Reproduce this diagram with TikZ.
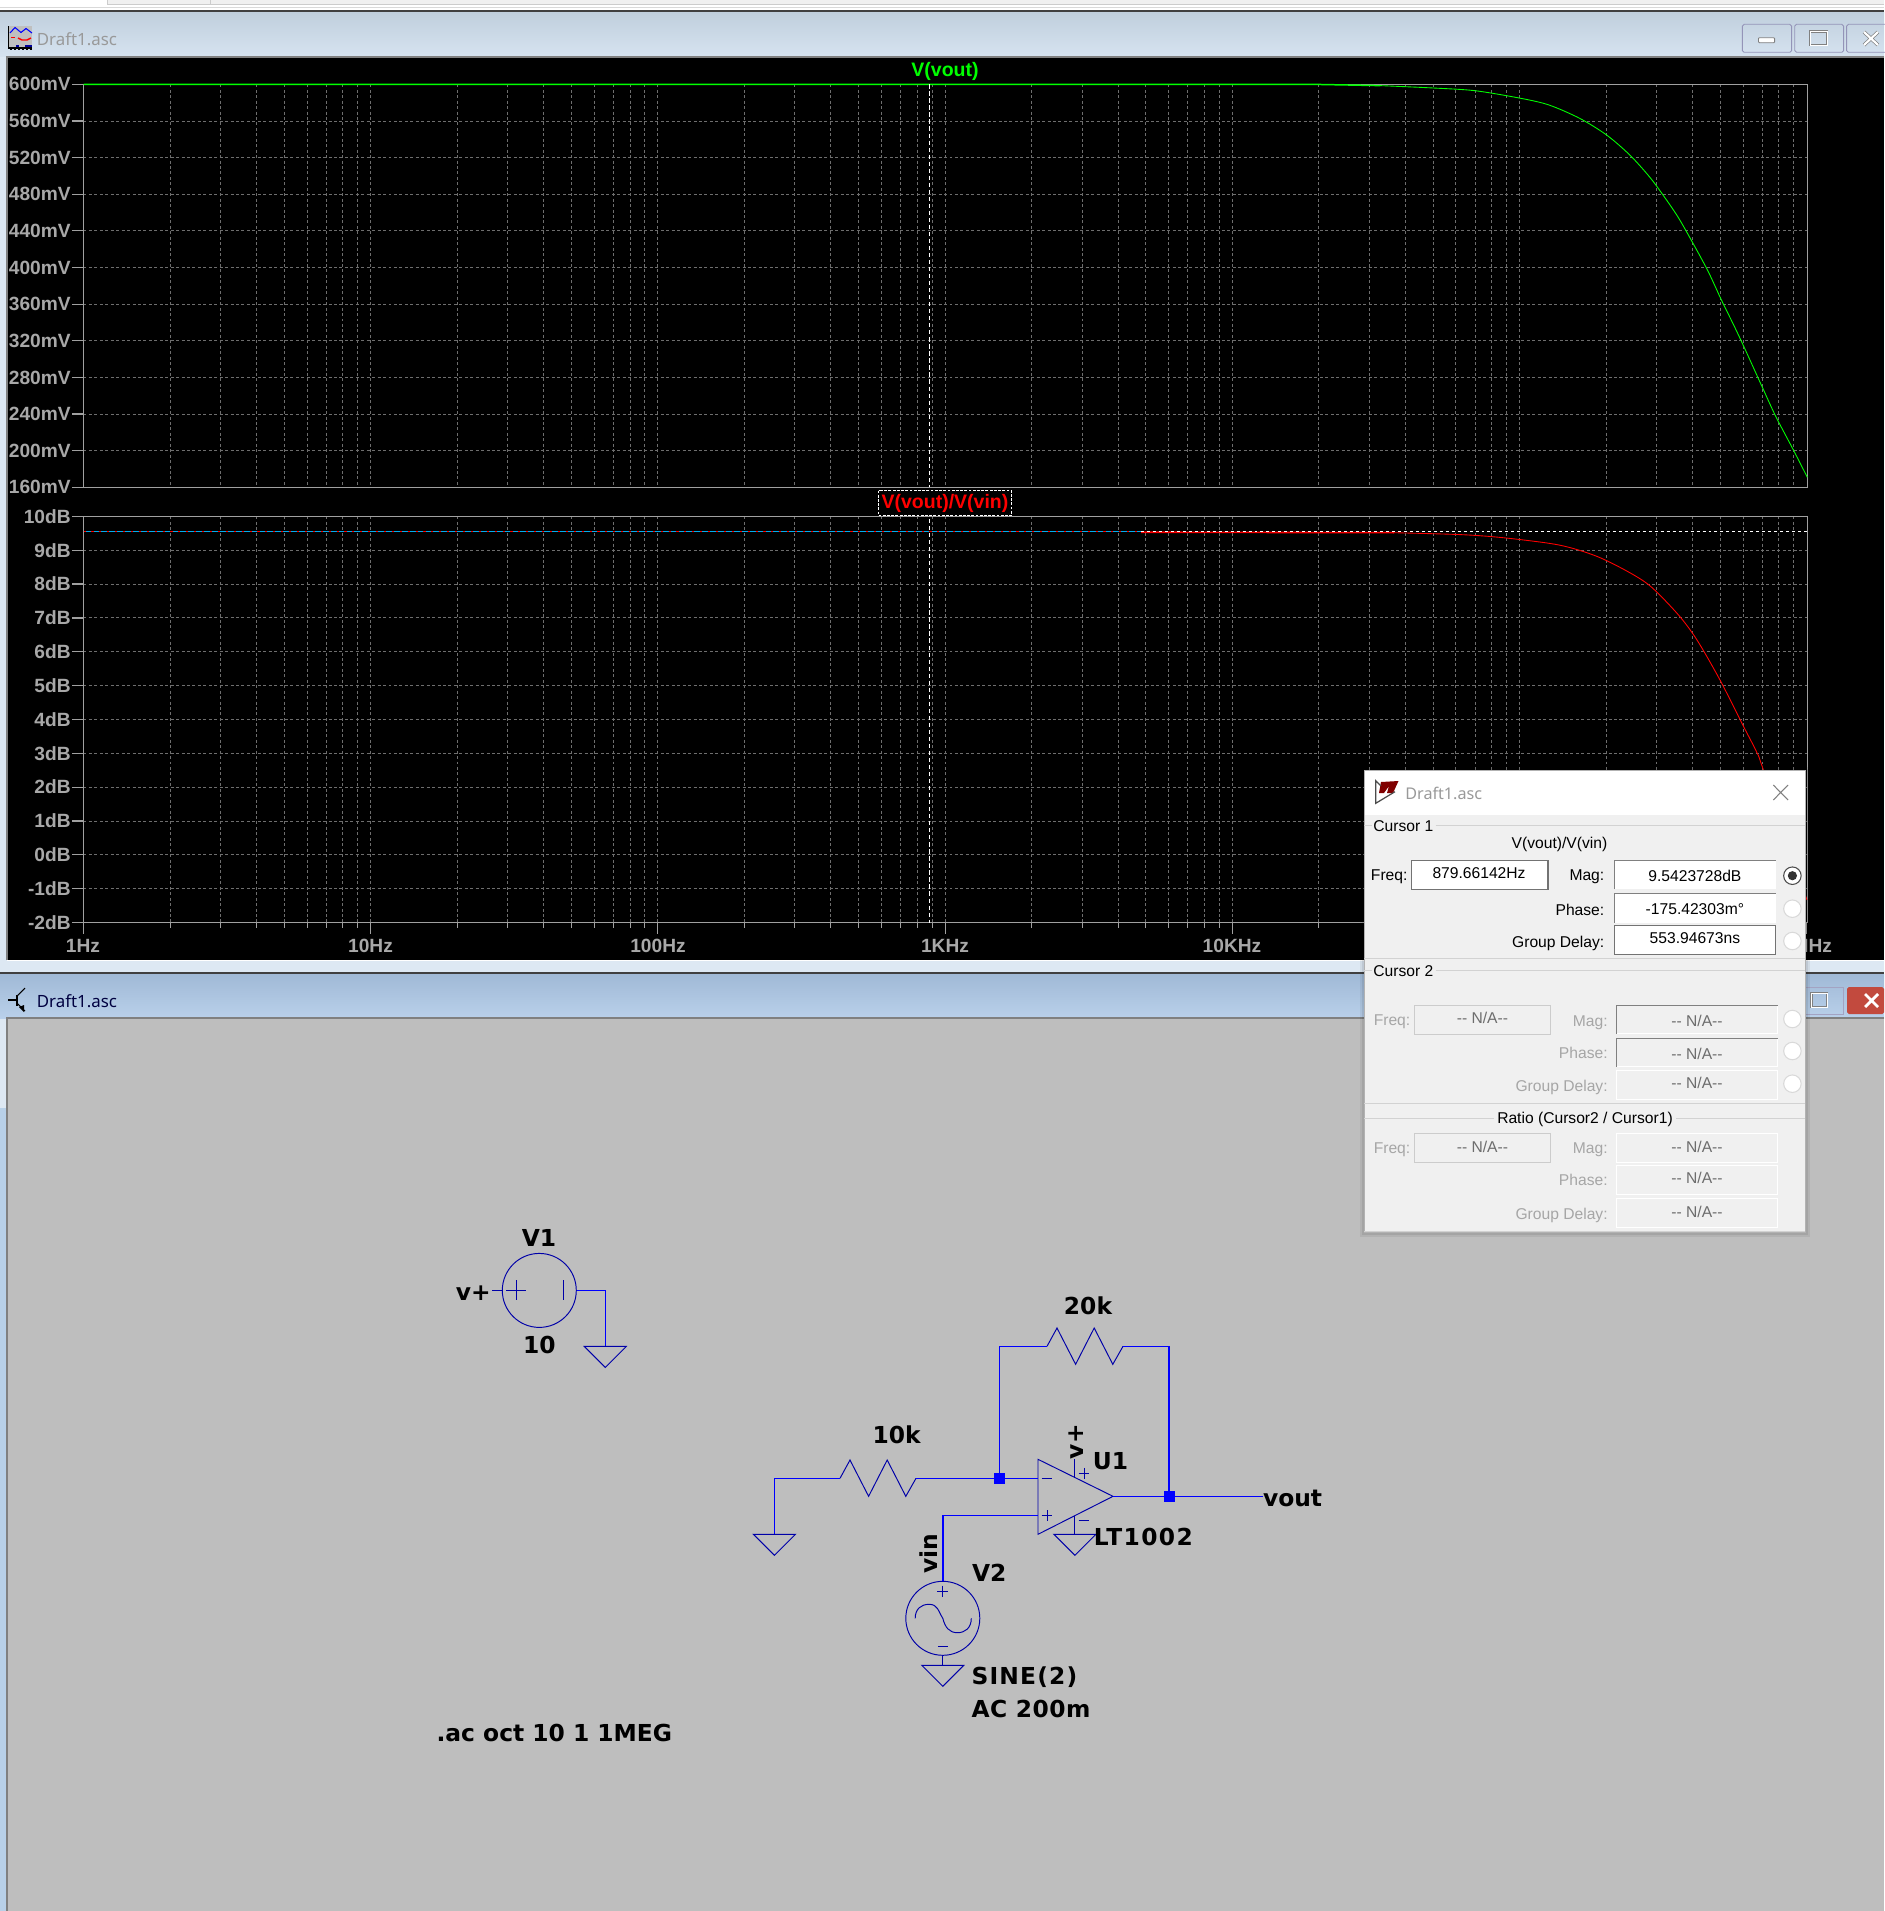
\documentclass[tikz,border=0pt]{standalone}
\usepackage{fontspec}
\setmainfont{Liberation Sans}
\newfontfamily\schfont{DejaVu Sans}
\newfontfamily\titlefont{Noto Sans}
\usepackage{tikz}

\definecolor{plotgray}{HTML}{A8A8A8}
\definecolor{framegray}{HTML}{A0A0A0}
\definecolor{gridgray}{HTML}{6E6E6E}
\definecolor{schgray}{HTML}{BEBEBE}
\definecolor{dlggray}{HTML}{F0F0F0}
\definecolor{dimgray}{HTML}{A6A6A6}
\definecolor{natext}{HTML}{6D6D6D}
\definecolor{symblue}{HTML}{0000A8}
\definecolor{wireblue}{HTML}{0000FF}
\definecolor{traceg}{HTML}{00FF00}
\definecolor{tracer}{HTML}{FF0000}
\definecolor{wavetop}{HTML}{C0CFDD}
\definecolor{wavebot}{HTML}{D6E3F0}
\definecolor{schtop}{HTML}{A0B9D6}
\definecolor{schbot}{HTML}{B9D0EA}
\definecolor{winframe}{HTML}{DDE8F3}
\definecolor{winlow}{HTML}{B8D0E8}
\definecolor{closered}{HTML}{C24A3E}

\tikzset{
  gridline/.style={gridgray, line width=0.5pt, dash pattern=on 1.7pt off 1.4pt},
  plotlab/.style={font=\bfseries\fontsize{10.9}{12}\selectfont, text=plotgray, inner sep=0pt},
  framed/.style={framegray, line width=0.7pt},
  wire/.style={wireblue, line width=0.85pt},
  sym/.style={symblue, line width=0.55pt},
  srcnode/.style={circle, draw=symblue, line width=0.55pt, minimum size=1.48cm, inner sep=0pt},
  junction/.style={fill=wireblue, minimum size=0.214cm, inner sep=0pt},
  schlab/.style={font=\schfont\bfseries\fontsize{13.3}{14}\selectfont, inner sep=0pt},
  dlg/.style={font=\fontsize{8.9}{10}\selectfont, inner sep=0pt, text=black},
  dlglab/.style={dlg, yshift=-0.8pt},
  dlgdim/.style={dlg, text=dimgray},
  dlgna/.style={dlg, text=natext},
  wintitle/.style={font=\titlefont\fontsize{9.6}{11}\selectfont, inner sep=0pt},
  gndsym/.pic={\draw[sym] (-21,0) -- (21,0) -- (0,21) -- cycle;},
  res/.pic={\draw[sym] (0,0) -- (10,-18.3) -- (28.6,18) -- (47.2,-18.3) -- (65.8,18) -- (76,0);},
  radio/.style={circle, fill=white, draw=#1, line width=0.6pt, minimum size=0.35cm, inner sep=0pt}
}

\begin{document}
\begin{tikzpicture}[x=0.02cm,y=-0.02cm]
  \useasboundingbox (0,0) rectangle (1884,1911);
  \fill[white] (0,0) rectangle (1884,1911);

  % screen strip on top
  \fill[dlggray] (107,0) rectangle (1884,4.5);
  \draw[gray!40, line width=0.5pt] (107,0) -- (107,4.5) -- (1884,4.5);
  \draw[gray!40, line width=0.5pt] (210,0) -- (210,4.5);
  \draw[gray!30, line width=0.5pt] (0,7.5) -- (1884,7.5);
  \draw[black!75, line width=0.6pt] (0,11) -- (1884,11);

  % waveform window
  \shade[top color=wavetop, bottom color=wavebot] (0,12) rectangle (1884,57);
  \fill[winframe] (0,57) rectangle (7.5,960);
  \fill[black] (7.5,57) rectangle (1884,960);
  \draw[gray, line width=0.9pt] (7,960) -- (7,57) -- (1884,57);
  \fill[winframe] (0,960) rectangle (1884,972);
  \draw[white, line width=0.6pt] (7,960.5) -- (1884,960.5);
  \draw[black!75, line width=0.9pt] (0,973) -- (1884,973);
  \node[wintitle, text=black!40, anchor=west] (wavetitle) at (36.5,39.5) {Draft1.asc};

  % wave icon
  \fill[gray!50] (8.5,26) rectangle (32,48);
  \draw[blue, line width=0.6pt] (10,33) -- (15,27.5) -- (21,32.5) -- (26,28.5) -- (32,33);
  \draw[red, line width=0.8pt] (11,37.5) -- (15,37.5);
  \draw[red, line width=0.8pt] (18,38) -- (22,40) -- (27,40) -- (31,38);
  \draw[blue!60!black, line width=0.8pt] (16,46) -- (18.5,46);
  \draw[blue!60!black, line width=0.8pt] (25,46) -- (32,46);
  \draw[black, line width=0.6pt] (8.5,26) -- (8.5,48) -- (32,48);
  \foreach \tk in {11,15,19,23,27,31}
    \draw[black, line width=0.6pt] (\tk,48) -- (\tk,50);

  % window buttons
  \foreach \bx/\bw in {1742.3/49.3,1794.7/48.9,1846.6/50}
    \draw[blue!20!gray!70, line width=0.5pt, rounded corners=1pt] (\bx,24.3) rectangle ++(\bw,28);
  \draw[gray, fill=white, line width=0.5pt, rounded corners=0.5pt] (1758.5,37.7) rectangle (1774.6,42.7);
  \draw[gray, line width=1.5pt] (1810,31.7) rectangle (1827,45);
  \draw[white, line width=0.4pt] (1810,31.7) rectangle (1827,45);
  \draw[gray, line width=2pt] (1864,32) -- (1878,45) (1878,32) -- (1864,45);
  \draw[white, line width=1.2pt] (1864,32) -- (1878,45) (1878,32) -- (1864,45);

  % grids of both panes
  \foreach \dec in {0,...,5}
    \foreach \num in {1,...,9} {
      \pgfmathsetmacro{\xg}{83.5+(\dec+log10(\num))*287.2}
      \draw[gridline] (\xg,84.3) -- (\xg,487.3);
      \draw[gridline] (\xg,516.4) -- (\xg,922.5);
      \draw[framed, line width=0.5pt] (\xg,922.5) -- (\xg,928);
    }
  \foreach \dec in {0,...,6} {
    \pgfmathsetmacro{\xg}{83.5+\dec*287.2}
    \draw[framed, line width=0.5pt] (\xg,922.5) -- (\xg,933.6);
  }

  % upper pane
  \foreach \lab [count=\i from 0] in {600mV,560mV,520mV,480mV,440mV,400mV,360mV,320mV,280mV,240mV,200mV,160mV} {
    \pgfmathsetmacro{\yg}{84.3+\i*36.64}
    \ifnum\i>0 \draw[gridline] (83.5,\yg) -- (1807,\yg); \fi
    \draw[framed] (72,\yg) -- (83.5,\yg);
    \node[plotlab, anchor=east] (upper\i) at (71,\yg) {\lab};
  }
  \draw[framed] (83.5,84.3) rectangle (1807.5,487.3);

  % lower pane
  \foreach \lab [count=\i from 0] in {10dB,9dB,8dB,7dB,6dB,5dB,4dB,3dB,2dB,1dB,0dB,-1dB,-2dB} {
    \pgfmathsetmacro{\yg}{516.4+\i*33.84}
    \ifnum\i>0 \draw[gridline] (83.5,\yg) -- (1807,\yg); \fi
    \draw[framed] (72,\yg) -- (83.5,\yg);
    \node[plotlab, anchor=east] (lower\i) at (71,\yg) {\lab};
  }
  \draw[framed] (83.5,516.4) rectangle (1807.5,922.5);

  \foreach \lab/\xl/\nm in {1Hz/83/a,10Hz/370.5/b,100Hz/658/c,1KHz/945/d,10KHz/1232/e,1MHz/1807/f}
    \node[plotlab] (xlab\nm) at (\xl,945.7) {\lab};

  % traces
  \draw[traceg, line width=0.85pt] (83.5,84.3) -- (1311,84.3) -- (1380,85.6);
  \draw[traceg, line width=0.5pt] plot[smooth, tension=0.5] coordinates {(1380,85.6) (1433.4,88) (1475,90.7) (1520.7,98.3) (1549,105)
    (1579.6,118.3) (1606.6,135) (1629.8,155) (1649.4,176.7) (1662.5,194.3) (1677.8,216.7)
    (1693,243.3) (1708.3,271.7) (1721.4,300) (1734.5,326.7) (1745.4,350) (1762.8,388.3)
    (1775.9,416.7) (1793.4,450) (1807.3,477.3)};
  \draw[cyan, line width=0.8pt] (83.5,531.6) -- (1141,531.6);
  \draw[tracer, line width=0.8pt, dash pattern=on 1.2pt off 3.3pt] (83.5,531.6) -- (1141,531.6);
  \draw[tracer, line width=0.9pt] (1141,532.2) -- (1394,532.7);
  \draw[tracer, line width=0.5pt] plot[smooth, tension=0.5] coordinates {(1394,532.7) (1462.7,534.7) (1506,538) (1559,545) (1596,556)
    (1628,571.7) (1651,586.7) (1678.5,615) (1697,640) (1720,680) (1742.8,725) (1756.6,752)
    (1763.4,770) (1807,900)};
  \draw[white, line width=0.6pt, dash pattern=on 1.7pt off 1.7pt] (1141,531.2) -- (1807,531.2);

  % cursor
  \draw[white, line width=0.6pt, dash pattern=on 2.4pt off 1.6pt] (929.5,84.3) -- (929.5,487.3);
  \draw[white, line width=0.6pt, dash pattern=on 2.4pt off 1.6pt] (929.5,519) -- (929.5,922.5);

  \node[font=\bfseries\fontsize{11.1}{12}\selectfont, text=traceg, inner sep=0pt] (upname) at (945,71.5) {V(vout)};
  \fill[black] (878.5,490.5) rectangle (1011.5,515.7);
  \draw[white, line width=0.6pt, dash pattern=on 1.6pt off 0.8pt] (878.5,490.5) rectangle (1011.5,515.7);
  \node[font=\bfseries\fontsize{11.1}{12}\selectfont, text=tracer, inner sep=0pt] (lowname) at (945,503) {V(vout)/V(vin)};

  % schematic window
  \fill[winframe] (0,973.5) rectangle (7,1108);
  \fill[winlow] (0,1108) rectangle (7,1911);
  \shade[top color=schtop, bottom color=schbot] (0,974) rectangle (1884,1018);
  \fill[schgray] (7,1018) rectangle (1884,1911);
  \draw[gray, line width=0.9pt] (7,1911) -- (7,1018) -- (1884,1018);
  \node[wintitle, text=blue!25!black, anchor=west] (schtitle) at (36.5,1001.5) {Draft1.asc};

  % transistor icon
  \draw[black, line width=0.6pt] (8,1000) -- (17,1000);
  \draw[black, line width=0.9pt] (17,995) -- (17,1006);
  \draw[black, line width=0.6pt] (17,996) -- (25,988) (17,1003) -- (25,1011);
  \fill[black] (24,1012) -- (19,1007) -- (24,1005) -- cycle;

  \draw[blue!20!gray!60, line width=0.5pt] (1805,987) rectangle (1843,1014);
  \draw[gray, line width=1.5pt] (1811.5,993) rectangle (1827,1007);
  \draw[white, line width=0.4pt] (1811.5,993) rectangle (1827,1007);
  \fill[closered, rounded corners=1pt] (1847,987) rectangle (1884,1014);
  \draw[white, line width=1.6pt] (1865,994) -- (1878,1007) (1878,994) -- (1865,1007);

  % V1 source
  \node[srcnode] (vone) at (539.3,1290.4) {};
  \coordinate (vonepin) at (492,1290.4);
  \coordinate (gndone) at (605.3,1346.4);
  \draw[sym] (vonepin) -- (vone.west);
  \draw[sym] (506.3,1290.4) -- (526.3,1290.4) (516.3,1280.4) -- (516.3,1300.4);
  \draw[sym] (563.7,1280) -- (563.7,1300);
  \draw[wire] (vone.east) -| (gndone);
  \pic at (gndone) {gndsym};
  \node[schlab] (vonename) at (539,1237.5) {V1};
  \node[schlab] (vonevalue) at (539.3,1344.6) {10};
  \node[schlab] (vonenet) at (473.3,1293) {v+};

  % feedback amp
  \coordinate (opa) at (1038,1459.3);
  \coordinate (opb) at (1038,1534.3);
  \coordinate (opout) at (1113,1496.3);
  \coordinate (opinv) at (1038,1478.3);
  \coordinate (opnon) at (1038,1515.7);
  \coordinate (rinl) at (840,1478.3);
  \coordinate (rinr) at (916,1478.3);
  \coordinate (rfbl) at (1047,1346.3);
  \coordinate (rfbr) at (1123,1346.3);
  \coordinate (gndtwo) at (774.4,1534.3);
  \coordinate (gndthree) at (1074.9,1534.3);
  \coordinate (gndfour) at (942.8,1665.3);
  \coordinate (voutend) at (1262.7,1496.3);
  \coordinate (oppos) at (1074.9,1459.3);
  \coordinate (oppostop) at (1074.9,1478);
  \coordinate (opneg) at (1074.9,1516);
  \node[junction] (jleft) at (999.6,1478.3) {};
  \node[junction] (jright) at (1169.2,1496.3) {};
  \node[srcnode] (vtwo) at (942.8,1618.3) {};

  \draw[sym] (opa) -- (opb) -- (opout) -- cycle;
  \pic at (rinl) {res};
  \pic at (rfbl) {res};
  \draw[wire] (gndtwo) |- (rinl);
  \draw[wire] (rinr) -- (jleft);
  \draw[wire] (jleft) -- (opinv);
  \draw[wire] (jleft) |- (rfbl);
  \draw[wire] (rfbr) -| (jright);
  \draw[wire] (opout) -- (jright);
  \draw[wire] (jright) -- (voutend);
  \draw[wire] (opnon) -| (vtwo.north);
  \draw[sym] (oppos) -- (oppostop);
  \draw[sym] (opneg) -- (gndthree);
  \draw[sym] (vtwo.south) -- (gndfour);
  \pic at (gndtwo) {gndsym};
  \pic at (gndthree) {gndsym};
  \pic at (gndfour) {gndsym};

  \draw[sym] (1041.6,1478.3) -- (1052.2,1478.3);
  \draw[sym] (1041.6,1515.7) -- (1052.4,1515.7) (1047,1510.2) -- (1047,1521.2);
  \draw[sym] (1078.6,1473.3) -- (1089.4,1473.3) (1084,1467.8) -- (1084,1478.8);
  \draw[sym] (1078.6,1520.3) -- (1089.4,1520.3);
  \draw[sym] (937.3,1591) -- (948.3,1591) (942.8,1585.5) -- (942.8,1596.5);
  \draw[sym] (937.8,1646.7) -- (947.8,1646.7);
  \draw[sym] (915.2,1618.3) .. controls (915.2,1609) and (921,1604.3) .. (929,1604.3)
    .. controls (938,1604.3) and (938,1611) .. (942.8,1618.3)
    .. controls (945,1627) and (949,1632.7) .. (957.5,1632.7)
    .. controls (965,1632.7) and (971.3,1628) .. (971.3,1618.3);

  \node[schlab] (rinval) at (896.6,1435) {10k};
  \node[schlab] (rfbval) at (1088,1306) {20k};
  \node[schlab, rotate=90] (opnet) at (1076,1441.7) {v+};
  \node[schlab] (opname) at (1110.5,1461) {U1};
  \node[schlab, anchor=west] (optype) at (1093.5,1536.5) {\addfontfeatures{LetterSpace=6}LT1002};
  \node[schlab, anchor=west] (voutnet) at (1262.7,1498) {vout};
  \node[schlab, rotate=90] (vinnet) at (929,1553.3) {vin};
  \node[schlab, anchor=west] (vtwoname) at (971.8,1572.7) {V2};
  \node[schlab, anchor=west] (vtwosine) at (971.3,1677.5) {\addfontfeatures{LetterSpace=5}SINE(2)};
  \node[schlab, anchor=west] (vtwoac) at (971.3,1709) {\addfontfeatures{LetterSpace=2}AC 200m};
  \node[schlab, anchor=west] (acline) at (436.2,1732.9) {.ac oct 10 1 1MEG};

  % cursor dialog
  \fill[black, opacity=0.06] (1360,766.5) rectangle (1809.5,1237);
  \fill[black, opacity=0.08] (1362,768.5) rectangle (1807.5,1235);
  \fill[dlggray] (1364.3,770.7) rectangle (1805.3,1232.7);
  \fill[white] (1364.3,770.7) rectangle (1805.3,815);
  \draw[gray!60, line width=0.4pt] (1364.3,770.7) rectangle (1805.3,1232.7);
  \draw[gray, line width=0.6pt] (1773.3,785) -- (1788,800) (1788,785) -- (1773.3,800);
  \fill[red!50!black] (1381,782) -- (1398.5,781) -- (1393,793) -- (1387,793) -- (1389,786) -- (1384,793) -- (1379,793) -- cycle;
  \draw[black!70, line width=0.7pt] (1395,791.7) -- (1375.7,803.3) -- (1375.7,780.7) -- (1381,786);
  \node[wintitle, font=\titlefont\fontsize{9.2}{11}\selectfont, text=black!40, anchor=west] (dlgtitle) at (1405,793.5) {Draft1.asc};

  \foreach \ys/\xa/\xb in {825.7/1364/1372,825.7/1435.5/1805,958.3/1364/1805,970.3/1364/1372,970.3/1435.5/1805,1103.3/1364/1805,1118.7/1364/1493.8,1118.7/1676/1805,1231/1364/1805}
    \draw[gray!35, line width=0.5pt] (\xa,\ys) -- (\xb,\ys);

  \node[dlglab, anchor=west] (curone) at (1373,825) {Cursor 1};
  \node[dlglab, anchor=west] (curtwo) at (1373,970) {Cursor 2};
  \node[dlglab] (ratio) at (1585,1118.3) {Ratio (Cursor2 / Cursor1)};
  \node[dlglab] (curname) at (1559.5,843.3) {V(vout)/V(vin)};

  % fields of cursor 1
  \draw[black!55, fill=white, line width=0.6pt] (1411.5,860.3) rectangle (1548,889.3);
  \draw[black!55, fill=white, line width=0.6pt] (1614.7,925.3) rectangle (1775.8,954.3);
  \foreach \ya/\yb in {860/889.3,893.3/922.7} {
    \fill[white] (1614.7,\ya) rectangle (1775.8,\yb);
    \draw[gray, line width=0.5pt] (1614.7,\yb) |- (1775.8,\ya);
  }
  \node[dlglab, anchor=west] (frqlab) at (1370.6,875) {Freq:};
  \node[dlg] (frqval) at (1479,873.3) {879.66142Hz};
  \node[dlglab, anchor=east] (maglab) at (1604.6,875.3) {Mag:};
  \node[dlg] (magval) at (1694.9,876) {9.5423728dB};
  \node[dlglab, anchor=east] (phslab) at (1604.6,908.3) {Phase:};
  \node[dlg] (phsval) at (1694.9,909) {-175.42303m°};
  \node[dlglab, anchor=east] (gdlab) at (1604.6,942.3) {Group Delay:};
  \node[dlg] (gdval) at (1694.9,938.3) {553.94673ns};

  \node[radio=black!70] (radioa) at (1792.4,875.7) {};
  \fill[black!80] (radioa) circle (4.6);
  \foreach \yr/\nm in {908.7/b,941/c,1019/d,1051/e,1083.7/f}
    \node[radio=gray!30] (radio\nm) at (1792.4,\yr) {};

  % disabled fields
  \foreach \yt/\ylab/\ytxt/\nm in {1005.7/1022/1018.3/a,1133.7/1149.5/1146.7/b} {
    \draw[gray!40, line width=0.6pt] (1414.3,\yt) rectangle ++(136.5,28.6);
    \node[dlgdim, anchor=west] (fq\nm) at (1373.4,\ylab) {Freq:};
    \node[dlgna] (fqna\nm) at (1482.4,\ytxt) {-{}- N/A-{}-};
  }
  \foreach \yt/\lab/\ylab/\ytxt/\col/\nm in {1005.3/Mag:/1022.7/1021.3/gray/a,1038.3/Phase:/1053.3/1054.3/gray/b,1070.7/Group Delay:/1087.3/1083.3/white/c,1133.7/Mag:/1149.5/1146.7/white/d,1165.7/Phase:/1180.3/1178.3/white/e,1198.7/Group Delay:/1215.3/1211.7/white/f} {
    \draw[white, line width=0.6pt] (1616.7,\yt) rectangle ++(161.1,28.6);
    \draw[\col, line width=0.5pt] (1616.7,\yt+28.6) |- (1777.8,\yt);
    \node[dlgdim, anchor=east] (dl\nm) at (1608,\ylab) {\lab};
    \node[dlgna] (na\nm) at (1697,\ytxt) {-{}- N/A-{}-};
  }
\end{tikzpicture}
\end{document}
